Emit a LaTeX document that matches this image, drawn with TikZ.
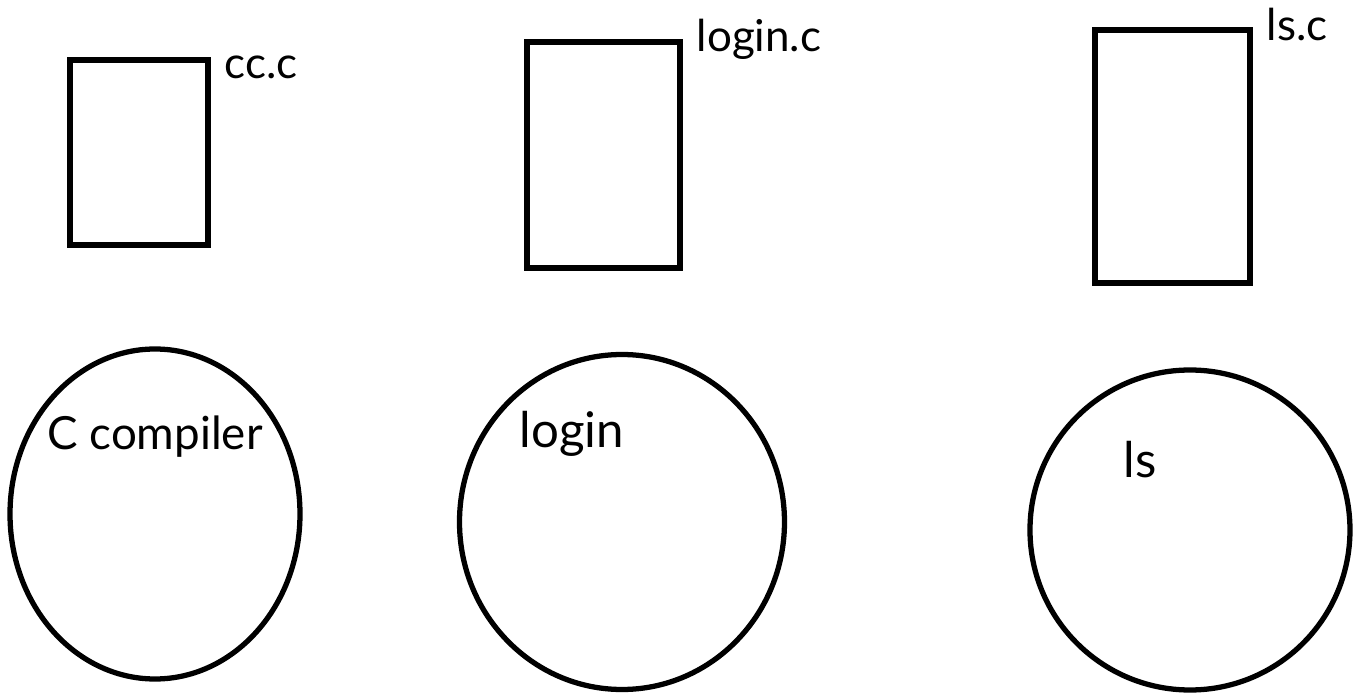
\documentclass[tikz,border=0pt]{standalone}
\usepackage{fontspec}
\setmainfont{Lato}
\usetikzlibrary{positioning,shapes.geometric}
\tikzset{
  srcfile/.style={draw,line width=1.5pt,rectangle,inner sep=0pt},
  program/.style={draw,line width=1.5pt,ellipse,inner sep=0pt},
  filelabel/.style={font=\fontsize{12.5}{15}\selectfont,inner sep=1pt},
  proglabel/.style={font=\fontsize{14}{17}\selectfont,inner sep=1pt}
}
\begin{document}
\begin{tikzpicture}
  \useasboundingbox (0,0) rectangle (13.67,6.98);
  % source files
  \node[srcfile,minimum width=13.8mm,minimum height=18.5mm] (ccsrc) at (1.39,5.455) {};
  \node[srcfile,minimum width=15.3mm,minimum height=22.6mm] (loginsrc) at (6.035,5.43) {};
  \node[srcfile,minimum width=15.5mm,minimum height=25.3mm] (lssrc) at (11.725,5.415) {};
  \node[filelabel,right=1mm of ccsrc.north east,yshift=-1mm] (cclab) {cc.c};
  \node[filelabel,right=1mm of loginsrc.north east] (loginlab) {login.c};
  \node[filelabel,right=1mm of lssrc.north east,yshift=0.3mm] (lslab) {ls.c};
  % programs
  \node[program,minimum width=29mm,minimum height=33mm] (ccprog) at (1.55,1.84) {};
  \node[program,minimum width=32.5mm,minimum height=33.5mm] (loginprog) at (6.22,1.76) {};
  \node[program,minimum width=32mm,minimum height=32mm] (lsprog) at (11.9,1.68) {};
  \node[proglabel,font=\fontsize{13}{16}\selectfont,below=6.5mm of ccprog.north] (cctext) {C compiler};
  \node[proglabel,below=5.5mm of loginprog.north,xshift=-5mm] (logintext) {login};
  \node[proglabel,below=7mm of lsprog.north,xshift=-5mm] (lstext) {ls};
\end{tikzpicture}
\end{document}
